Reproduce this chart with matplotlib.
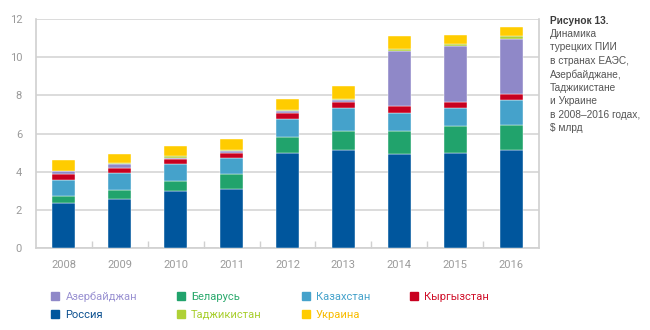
import matplotlib
matplotlib.use('Agg')
from matplotlib import pyplot as plt
from matplotlib.lines import Line2D
import numpy as np

plt.rcParams['font.family'] = ['Roboto', 'DejaVu Sans']

# данные, $ млрд
years = ['2008', '2009', '2010', '2011', '2012', '2013', '2014', '2015', '2016']
russia = [2.35, 2.58, 3.00, 3.09, 4.97, 5.13, 4.95, 4.99, 5.13]
belarus = [0.35, 0.45, 0.52, 0.78, 0.86, 0.99, 1.17, 1.38, 1.32]
kazakhstan = [0.88, 0.91, 0.86, 0.84, 0.92, 1.24, 0.94, 0.99, 1.31]
kyrgyzstan = [0.29, 0.25, 0.29, 0.26, 0.31, 0.31, 0.39, 0.30, 0.30]
azerbaijan = [0.14, 0.21, 0.07, 0.09, 0.13, 0.07, 2.89, 2.91, 2.91]
tajikistan = [0.04, 0.05, 0.06, 0.05, 0.03, 0.09, 0.11, 0.14, 0.14]
ukraine = [0.57, 0.49, 0.55, 0.61, 0.58, 0.66, 0.66, 0.47, 0.49]

# порядок снизу вверх
series = [
    ('Россия', russia, '#00569D', '#0A4F8F'),
    ('Беларусь', belarus, '#21A36C', '#2DAA6E'),
    ('Казахстан', kazakhstan, '#45A2CB', '#45A2CB'),
    ('Кыргызстан', kyrgyzstan, '#C8001F', '#D0102A'),
    ('Азербайджан', azerbaijan, '#8F88C8', '#9A92D2'),
    ('Таджикистан', tajikistan, '#AFD136', '#A8CF2E'),
    ('Украина', ukraine, '#FFCC00', '#F8BC00'),
]

fig = plt.figure(figsize=(6.5, 3.3), dpi=100)
ax = fig.add_axes([36 / 650, 82 / 330, 503 / 650, 229 / 330])

x = np.arange(len(years))
bottom = np.zeros(len(years))
handles = {}
for name, vals, col, tcol in series:
    ax.bar(x, vals, width=0.41, bottom=bottom, color=col,
           edgecolor='white', linewidth=0.3, zorder=3)
    bottom += np.array(vals)
    handles[name] = Line2D([], [], linestyle='none', marker='s',
                           markersize=6, color=col)

ax.set_xlim(-0.5, len(years) - 0.5)
ax.set_ylim(0, 12)
ax.set_yticks(np.arange(0, 13, 2))
ax.grid(axis='y', color='#DCDCDC', linewidth=1.4, zorder=0)
ax.set_axisbelow(True)

for s in ['left', 'right', 'bottom']:
    ax.spines[s].set_color('#D0D0D0')
    ax.spines[s].set_linewidth(1.2)
ax.spines['top'].set_visible(False)

ax.set_xticks(x)
ax.set_xticklabels(years)
ax.set_xticks(x[:-1] + 0.5, minor=True)
ax.tick_params(axis='x', which='major', length=0, pad=9, labelsize=8, labelcolor='#9A9A9A')
ax.tick_params(axis='x', which='minor', direction='in', length=5, color='#D0D0D0', width=1)
ax.tick_params(axis='y', length=0, pad=10, labelsize=8, labelcolor='#9A9A9A')

# легенда
order = ['Азербайджан', 'Россия', 'Беларусь', 'Таджикистан',
         'Казахстан', 'Украина', 'Кыргызстан']
tcols = {name: tcol for name, _, _, tcol in series}
leg = fig.legend([handles[n] for n in order], order, ncol=4,
                 loc='upper left', bbox_to_anchor=(41 / 650, 1 - 281 / 330),
                 frameon=False, fontsize=8, handlelength=0.8, handletextpad=0.5,
                 columnspacing=3.55, labelspacing=0.75,
                 labelcolor=[tcols[n] for n in order])

# подпись
fig.text(550 / 650, 1 - 16 / 330, 'Рисунок 13.', family='Liberation Sans',
         fontsize=7.3, fontweight='bold', color='#3C3C3C', va='top', ha='left')
fig.text(550 / 650, 1 - 29 / 330,
         'Динамика\nтурецких ПИИ\nв странах ЕАЭС,\nАзербайджане,\nТаджикистане\n'
         'и Украине\nв 2008–2016 годах,\n$ млрд',
         family='Liberation Sans', fontsize=7.3, color='#555555',
         va='top', ha='left', linespacing=1.42)

plt.savefig('out.png', dpi=100)
plt.close()
